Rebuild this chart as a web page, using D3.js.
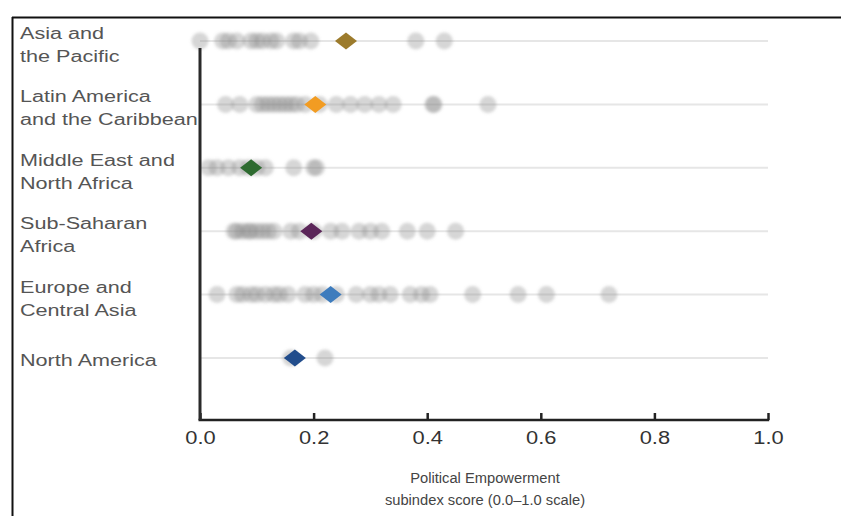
<!DOCTYPE html>
<html>
<head>
<meta charset="utf-8">
<script src="https://cdn.jsdelivr.net/npm/d3@7"></script>
<style>
  html, body { margin: 0; padding: 0; background: #fff; }
  svg { display: block; font-family: "Liberation Sans", Arial, sans-serif; }
</style>
</head>
<body>
<svg id="chart" width="841" height="516"></svg>
<script>
// ---------------- DATA ----------------
const regions = ["Asia and the Pacific", "Latin America and the Caribbean", "Middle East and North Africa",
                 "Sub-Saharan Africa", "Europe and Central Asia", "North America"];
const regionLabelLines = [["Asia and", "the Pacific"], ["Latin America", "and the Caribbean"],
                          ["Middle East and", "North Africa"], ["Sub-Saharan", "Africa"],
                          ["Europe and", "Central Asia"], ["North America"]];
const regionAverages = [0.257, 0.203, 0.09, 0.196, 0.23, 0.167];
const regionColors = ["#9c7b2c", "#f29c22", "#2e6b30", "#5b2659", "#3e7cbd", "#224d8c"];

const asiaPacific = [0.0, 0.04, 0.05, 0.065, 0.09, 0.1, 0.11, 0.125, 0.135, 0.165, 0.175, 0.195, 0.38, 0.43];
const latinAmerica = [0.045, 0.07, 0.1, 0.11, 0.12, 0.13, 0.14, 0.15, 0.16, 0.17, 0.185, 0.21, 0.24, 0.265,
                      0.29, 0.315, 0.34, 0.41, 0.412, 0.507];
const middleEast = [0.015, 0.03, 0.05, 0.07, 0.085, 0.1, 0.115, 0.165, 0.2, 0.205];
const subSaharan = [0.06, 0.065, 0.075, 0.085, 0.09, 0.1, 0.11, 0.12, 0.13, 0.16, 0.175, 0.2, 0.23, 0.25,
                    0.28, 0.3, 0.32, 0.365, 0.4, 0.45];
const europeCentral = [0.03, 0.065, 0.075, 0.09, 0.1, 0.115, 0.13, 0.14, 0.155, 0.185, 0.2, 0.215, 0.24,
                       0.275, 0.3, 0.315, 0.335, 0.37, 0.39, 0.405, 0.48, 0.56, 0.61, 0.72];
const northAmerica = [0.16, 0.22];
const countryScores = [asiaPacific, latinAmerica, middleEast, subSaharan, europeCentral, northAmerica];

const xTicks = [0, 0.2, 0.4, 0.6, 0.8, 1.0];
const xTitleLines = ["Political Empowerment", "subindex score (0.0\u20131.0 scale)"];

// ---------------- CHART ----------------
const svg = d3.select("#chart");
const x = d3.scaleLinear().domain([0, 1]).range([200, 768]);
const y = d3.scalePoint().domain(regions).range([41, 358]);
const axisY = 420;

function stretch(sel, f) {
  sel.each(function () {
    const w = this.getComputedTextLength();
    d3.select(this).attr("textLength", w * f).attr("lengthAdjust", "spacingAndGlyphs");
  });
}

// frame lines
svg.append("line").attr("x1", 12).attr("x2", 841).attr("y1", 17.5).attr("y2", 17.5)
  .attr("stroke", "#111").attr("stroke-width", 2);
svg.append("line").attr("x1", 12.5).attr("x2", 12.5).attr("y1", 17).attr("y2", 516)
  .attr("stroke", "#111").attr("stroke-width", 2);

// blur filter for soft dots
const defs = svg.append("defs");
defs.append("filter").attr("id", "soft").attr("x", "-5%").attr("y", "-100%").attr("width", "110%").attr("height", "300%")
  .append("feGaussianBlur").attr("stdDeviation", 1.5);
defs.append("filter").attr("id", "softText").append("feGaussianBlur").attr("stdDeviation", 0.35);

// row lines
svg.append("g").selectAll("line").data(regions).join("line")
  .attr("x1", x(0)).attr("x2", x(1))
  .attr("y1", d => y(d)).attr("y2", d => y(d))
  .attr("stroke", "#e6e6e6").attr("stroke-width", 2);

// dots
const dotG = svg.append("g").attr("filter", "url(#soft)");
regions.forEach((r, i) => {
  dotG.append("g").selectAll("circle").data(countryScores[i]).join("circle")
    .attr("cx", d => x(d)).attr("cy", y(r)).attr("r", 8.5)
    .attr("fill", "#888").attr("fill-opacity", 0.34);
});

// axes
const axisG = svg.append("g").attr("transform", `translate(0,${axisY})`);
const xAxis = d3.axisBottom(x).tickValues(xTicks).tickSize(-7).tickFormat(d3.format(".1f"));
axisG.call(xAxis);
axisG.select(".domain").remove();
axisG.selectAll(".tick line").attr("stroke", "#222").attr("stroke-width", 2.5);
axisG.selectAll(".tick text").attr("y", 24).attr("dy", 0)
  .attr("font-size", 17.5).attr("fill", "#333")
  .attr("font-family", "'Liberation Sans', Arial, sans-serif");
stretch(axisG.selectAll(".tick text"), 1.25);

svg.append("line").attr("x1", x(0) - 1.5).attr("x2", x(1) + 1.2).attr("y1", axisY).attr("y2", axisY)
  .attr("stroke", "#222").attr("stroke-width", 2.5);
svg.append("line").attr("x1", x(0)).attr("x2", x(0)).attr("y1", 48).attr("y2", axisY)
  .attr("stroke", "#2a2a2a").attr("stroke-width", 3);

// averages diamonds
const diamond = (w, h) => `M0,${-h / 2}L${w / 2},0L0,${h / 2}L${-w / 2},0Z`;
svg.append("g").selectAll("path").data(regions).join("path")
  .attr("transform", (d, i) => `translate(${x(regionAverages[i])},${y(d)})`)
  .attr("d", diamond(22, 17))
  .attr("fill", (d, i) => regionColors[i]);

// region labels
const labG = svg.append("g");
regions.forEach((r, i) => {
  const lines = regionLabelLines[i];
  lines.forEach((ln, k) => {
    const yy = lines.length === 1 ? y(r) + 8 : y(r) - 2 + k * 23;
    const tt = labG.append("text").attr("x", 20).attr("y", yy)
      .attr("font-size", 16).attr("fill", "#555").text(ln);
    stretch(tt, 1.35);
  });
});

// x title
xTitleLines.forEach((ln, k) => {
  const t = svg.append("text").attr("x", 485).attr("y", 483 + k * 22)
    .attr("text-anchor", "middle").attr("font-size", 14).attr("fill", "#444").text(ln);
  stretch(t, 1.05);
});
</script>
</body>
</html>
